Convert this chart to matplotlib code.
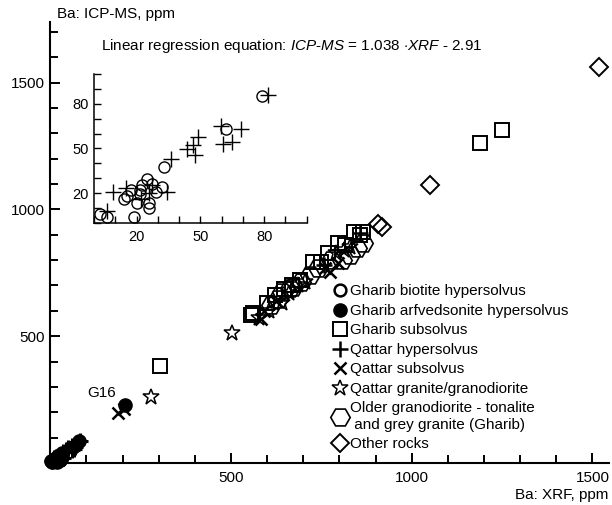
import matplotlib
matplotlib.use("Agg")
import matplotlib.pyplot as plt
from matplotlib.ticker import MultipleLocator, FixedLocator

plt.rcParams["font.family"] = ["Liberation Sans", "DejaVu Sans"]
plt.rcParams["mathtext.fontset"] = "custom"
plt.rcParams["mathtext.it"] = "Liberation Sans:italic"
plt.rcParams["mathtext.rm"] = "Liberation Sans"

# low-Ba samples (shown in the inset and as the blob near the origin)
bio_x = [78.8, 61.9, 32.9, 24.9, 27.1, 17.3, 14.1, 15.4, 21.8, 21.6, 20.1, 25.9, 25.9, 29.1, 31.8, 22.4, 2.8, 6.0, 18.9]
bio_y = [85.2, 62.9, 37.8, 29.3, 26.0, 22.1, 16.1, 18.1, 19.3, 22.1, 13.2, 13.2, 9.9, 20.6, 24.0, 25.6, 6.0, 4.2, 4.2]
qh_x = [81.6, 59.5, 69.1, 65.0, 60.8, 49.0, 46.4, 43.9, 47.5, 36.1, 9.1, 14.9, 6.0, 27.1, 34.2, 25.9, 22.0]
qh_y = [85.9, 65.1, 63.1, 54.6, 52.8, 57.9, 52.3, 49.5, 45.6, 42.7, 20.6, 23.3, 8.3, 25.6, 20.6, 19.9, 16.0]

# main plot series
arf_x = [207]
arf_y = [229]
gs_x = [304, 555, 562, 600, 622, 648, 668, 691, 728, 748, 769, 797, 815, 839, 857, 866, 1189, 1251]
gs_y = [382, 584, 590, 632, 662, 686, 700, 722, 794, 792, 827, 866, 860, 912, 899, 912, 1261, 1313]
qh2_x = [758, 858]
qh2_y = [780, 905]
qs_x = [188, 204, 582, 592, 625, 760, 774, 795]
qs_y = [196, 214, 566, 600, 640, 768, 754, 790]
qg_x = [280, 503, 578, 606, 640, 660, 685, 705, 790, 812, 830]
qg_y = [261, 512, 572, 600, 630, 672, 700, 712, 828, 838, 850]
og_x = [612, 630, 640, 663, 672, 695, 718, 742, 778, 806, 829, 848, 866]
og_y = [622, 648, 675, 689, 692, 712, 742, 770, 800, 800, 820, 847, 866]
oth_x = [908, 917, 1052, 1517]
oth_y = [942, 932, 1095, 1560]

fig = plt.figure(figsize=(6.12, 5.05), dpi=100)
ax = fig.add_axes([0.0822, 0.0832, 0.9129, 0.8733])

op = dict(linestyle="none", color="black", clip_on=False)
# blob of low-Ba samples near the origin
ax.plot(bio_x, bio_y, marker="o", ms=9, mfc="black", mew=1.5, **op)
ax.plot(qh_x, qh_y, marker="+", ms=12, mew=2.2, **op)

ax.plot([], [], marker="o", ms=8.5, mfc="none", mew=1.8, label="Gharib biotite hypersolvus", **op)
ax.plot(arf_x, arf_y, marker="o", ms=9.5, mfc="black", mew=1.0, label="Gharib arfvedsonite hypersolvus", **op)
ax.plot(gs_x, gs_y, marker="s", ms=10.5, mfc="none", mew=1.4, label="Gharib subsolvus", **op)
ax.plot(qh2_x, qh2_y, marker="+", ms=11, mew=1.8, label="Qattar hypersolvus", **op)
ax.plot(qs_x, qs_y, marker="x", ms=8.5, mew=1.8, label="Qattar subsolvus", **op)
ax.plot(qg_x, qg_y, marker="*", ms=12, mfc="none", mew=1.1, label="Qattar granite/granodiorite", **op)
ax.plot(og_x, og_y, marker="H", ms=14, mfc="none", mew=1.2,
        label="Older granodiorite - tonalite\n and grey granite (Gharib)", **op)
ax.plot(oth_x, oth_y, marker="D", ms=9, mfc="none", mew=1.4, label="Other rocks", **op)

ax.text(142, 277, "G16", fontsize=11, ha="center", va="center")

ax.set_xlim(0, 1546)
ax.set_ylim(0, 1739)
for s in ["top", "right"]:
    ax.spines[s].set_visible(False)
for s in ["left", "bottom"]:
    ax.spines[s].set_linewidth(1.5)
ax.xaxis.set_major_locator(FixedLocator([500, 1000, 1500]))
ax.xaxis.set_minor_locator(MultipleLocator(100))
ax.yaxis.set_major_locator(FixedLocator([500, 1000, 1500]))
ax.yaxis.set_minor_locator(MultipleLocator(100))
ax.tick_params(which="both", direction="in", width=1.4, labelsize=11)
ax.tick_params(which="major", length=7.5)
ax.tick_params(which="minor", length=5.5)
ax.tick_params(axis="x", pad=6)
ax.tick_params(axis="y", pad=4)

leg = ax.legend(loc="upper left", bbox_to_anchor=(0.504, 0.405), frameon=False, fontsize=11,
                handlelength=1.0, handletextpad=0.2, labelspacing=0.36, borderpad=0, borderaxespad=0)

fig.text(57 / 612, 1 - 14 / 505, "Ba: ICP-MS, ppm", fontsize=11, ha="left", va="center")
fig.text(608 / 612, 1 - 495 / 505, "Ba: XRF, ppm", fontsize=11, ha="right", va="center")
fig.text(101 / 612, 1 - 46 / 505,
         r"Linear regression equation: $\mathit{ICP}$-$\mathit{MS}$ = 1.038 $\cdot\mathit{XRF}$ - 2.91",
         fontsize=11, ha="left", va="center")

# inset: low-Ba samples
ins = fig.add_axes([94 / 612, 1 - 223 / 505, 212.7 / 612, 149 / 505])
ins.patch.set_alpha(0)
ins.plot(bio_x, bio_y, marker="o", ms=8, mfc="none", mew=1.0, linestyle="none", color="black", clip_on=False)
ins.plot(qh_x, qh_y, marker="+", ms=11, mew=1.0, linestyle="none", color="black", clip_on=False)
ins.set_xlim(0, 100)
ins.set_ylim(0, 100)
for s in ["top", "right"]:
    ins.spines[s].set_visible(False)
for s in ["left", "bottom"]:
    ins.spines[s].set_linewidth(1.1)
ins.xaxis.set_major_locator(FixedLocator([20, 50, 80]))
ins.xaxis.set_minor_locator(MultipleLocator(10))
ins.yaxis.set_major_locator(FixedLocator([20, 50, 80]))
ins.yaxis.set_minor_locator(MultipleLocator(10))
ins.tick_params(which="both", direction="in", length=5, width=1.0, labelsize=10.5)
ins.tick_params(axis="x", pad=5)
ins.tick_params(axis="y", pad=4)

fig.savefig("out.png", dpi=100)
